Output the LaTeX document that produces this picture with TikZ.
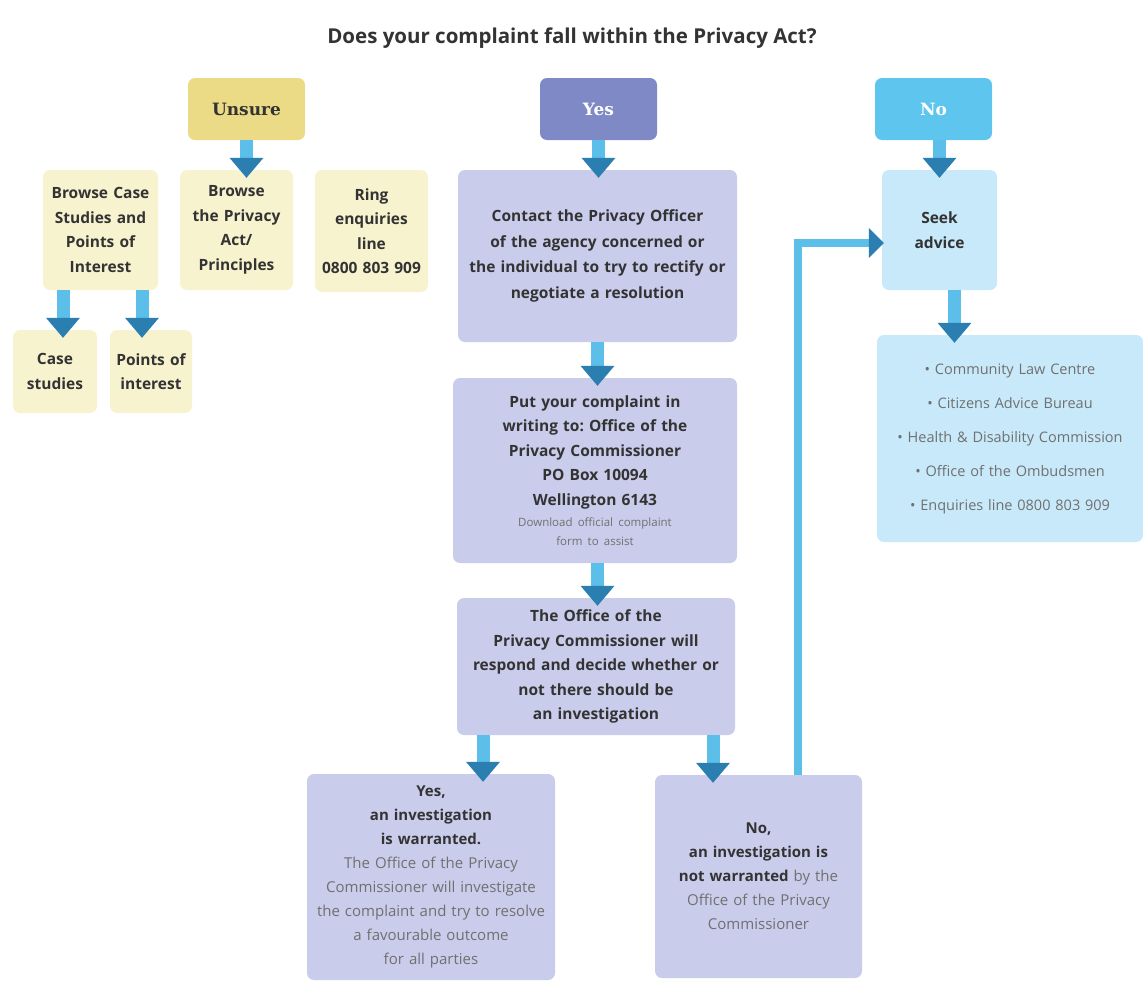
\documentclass[tikz,border=0pt]{standalone}
\usepackage{fontspec}
\setmainfont{Open Sans}
\newfontfamily\headfont{DejaVu Serif}
\usetikzlibrary{arrows.meta}
\frenchspacing

\definecolor{unsurefill}{HTML}{EBDB86}
\definecolor{paleyellow}{HTML}{F8F3CF}
\definecolor{yesfill}{HTML}{7F89C6}
\definecolor{lavender}{HTML}{C9CDEB}
\definecolor{nofill}{HTML}{5EC5EF}
\definecolor{paleblue}{HTML}{C7E9F9}
\definecolor{shaftblue}{HTML}{5BBFEA}
\definecolor{headblue}{HTML}{2B7FB0}
\definecolor{inkdark}{HTML}{333333}
\definecolor{inkgrey}{HTML}{707070}

\newcommand\softtxt[1]{{\mdseries\color{inkgrey}#1}}

\tikzset{
	box/.style={rounded corners=7pt, inner sep=0pt, align=center, text=inkdark,
		font=\fontsize{15.5}{24.5}\selectfont\bfseries},
	sz/.style 2 args={text width=#1pt, minimum height=#2pt},
	header/.style={box, font=\headfont\fontsize{17}{20}\selectfont\bfseries},
	flow/.style={draw=shaftblue, line width=13pt, shorten >=-8pt,
		-{Triangle[width=34pt,length=20pt,color=headblue,line width=0pt]}},
	backflow/.style={draw=shaftblue, line width=8pt, shorten >=-2pt,
		-{Triangle[width=30pt,length=15pt,color=headblue,line width=0pt]}}
}

\begin{document}
\begin{tikzpicture}[x=1pt, y=-1pt]
	%%%%% START %%%%%
	\useasboundingbox (0,0) rectangle (1143,980);

	\node[font=\fontsize{20.5}{24}\selectfont\bfseries, text=inkdark] (title) at (572,38)
		{Does your complaint fall within the Privacy Act?};

	% unsure column
	\node[header, fill=unsurefill, sz={117}{62}, text=black!80] (unsure) at (246.5,109) {Unsure};
	\node[box, fill=paleyellow, sz={115}{120}] (browsecase) at (100.5,230)
		{Browse Case\\Studies and\\Points of\\Interest};
	\node[box, fill=paleyellow, sz={113}{120}] (privacy) at (236.5,230)
		{Browse\\the Privacy\\Act/\\Principles};
	\node[box, fill=paleyellow, sz={113}{122}] (ring) at (371.5,231)
		{Ring\\enquiries\\line\\0800 803 909};
	\node[box, fill=paleyellow, sz={84}{83}] (cases) at (55,371.5) {Case\\studies};
	\node[box, fill=paleyellow, sz={82}{83}] (points) at (151,371.5) {Points of\\interest};

	% yes column
	\node[header, fill=yesfill, sz={117}{62}, text=white] (yes) at (598.5,109) {Yes};
	\node[box, fill=lavender, sz={279}{172}, font=\fontsize{15.5}{25.5}\selectfont\bfseries] (contact) at (597.5,256)
		{Contact the Privacy Officer\\of the agency concerned or\\the individual to try to rectify or\\negotiate a resolution};
	\node[box, fill=lavender, sz={284}{185}] (put) at (595,470.5)
		{Put your complaint in\\writing to: Office of the\\Privacy Commissioner\\PO Box 10094\\Wellington 6143\\[5pt]
		\parbox{\linewidth}{\centering\fontsize{11.5}{19}\selectfont\softtxt{Download official complaint\\form to assist}}};
	\node[box, fill=lavender, sz={278}{137}] (office) at (596,666.5)
		{The Office of the\\Privacy Commissioner will\\respond and decide whether or\\not there should be\\an investigation};
	\node[box, fill=lavender, sz={248}{206}, font=\fontsize{15}{24}\selectfont\bfseries] (yesinv) at (431,877)
		{Yes,\\an investigation\\is warranted.\\\softtxt{The Office of the Privacy}\\\softtxt{Commissioner will investigate}\\\softtxt{the complaint and try to resolve}\\\softtxt{a favourable outcome}\\\softtxt{for all parties}};
	\node[box, fill=lavender, sz={207}{203}, font=\fontsize{15}{24}\selectfont\bfseries] (noinv) at (758.5,876.5)
		{No,\\an investigation is\\not warranted \softtxt{by the}\\\softtxt{Office of the Privacy}\\\softtxt{Commissioner}\\[16pt]};

	% no column
	\node[header, fill=nofill, sz={117}{62}, text=white] (no) at (933.5,109) {No};
	\node[box, fill=paleblue, sz={115}{120}] (seek) at (939.5,230) {Seek\\advice};
	\node[box, fill=paleblue, sz={266}{207}, font=\fontsize{14.5}{34}\selectfont, text=inkgrey] (advice) at (1010,438.5)
		{• Community Law Centre\\• Citizens Advice Bureau\\• Health \& Disability Commission\\• Office of the Ombudsmen\\• Enquiries line 0800 803 909};

	% arrows
	\coordinate (csout) at ([xshift=-37.5pt]browsecase.south);
	\coordinate (ptout) at ([xshift=41.5pt]browsecase.south);
	\coordinate (yesout) at ([xshift=-113pt]office.south);
	\coordinate (noout) at ([xshift=117pt]office.south);
	\coordinate (seekout) at ([xshift=15pt]seek.south);
	\coordinate (backout) at ([xshift=39pt]noinv.north);

	\draw[flow] (unsure.south) -- (unsure.south |- privacy.north);
	\draw[flow] (csout) -- (csout |- cases.north);
	\draw[flow] (ptout) -- (ptout |- points.north);

	\draw[flow] (yes.south) -- (yes.south |- contact.north);
	\draw[flow] (contact.south) -- (contact.south |- put.north);
	\draw[flow] (put.south -| contact.south) -- (contact.south |- office.north);
	\draw[flow] (yesout) -- (yesout |- yesinv.north);
	\draw[flow] (noout) -- (noout |- noinv.north);

	\draw[flow] ([xshift=6pt]no.south) -- ([xshift=6pt]no.south |- seek.north);
	\draw[flow] (seekout) -- (seekout |- advice.north);
	\draw[backflow] (backout) |- ([yshift=-13pt]seek.west);
	%%%%% END %%%%%
\end{tikzpicture}
\end{document}
